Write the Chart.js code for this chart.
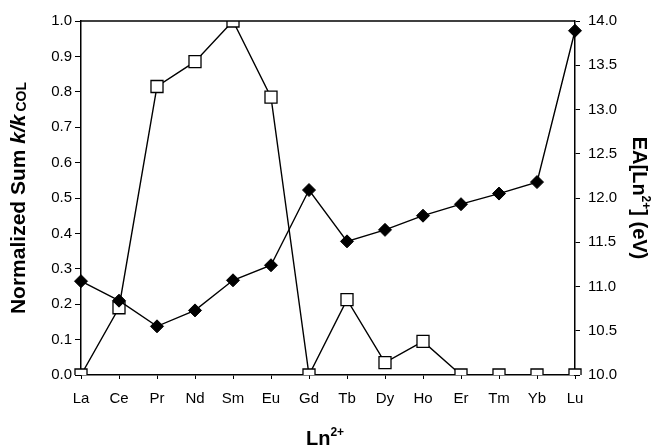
<!DOCTYPE html>
<html><head><meta charset="utf-8">
<script src="https://cdn.jsdelivr.net/npm/chart.js@4/dist/chart.umd.min.js"></script>
<style>html,body{margin:0;padding:0;background:#fff;overflow:hidden}#wrap{width:651px;height:447px;position:relative}</style>
</head><body><div id="wrap"><canvas id="c"></canvas></div>
<script>
const categories = ['La','Ce','Pr','Nd','Sm','Eu','Gd','Tb','Dy','Ho','Er','Tm','Yb','Lu'];
const normalizedSum = [0, 0.19, 0.815, 0.885, 1.0, 0.785, 0, 0.213, 0.035, 0.095, 0, 0, 0, 0];
const eaValues = [11.06, 10.84, 10.55, 10.73, 11.07, 11.24, 12.09, 11.51, 11.64, 11.80, 11.93, 12.05, 12.18, 13.89];
const leftTicks = [0, 0.1, 0.2, 0.3, 0.4, 0.5, 0.6, 0.7, 0.8, 0.9, 1.0];
const rightTicks = [10.0, 10.5, 11.0, 11.5, 12.0, 12.5, 13.0, 13.5, 14.0];

const FONT = '"Liberation Sans", Arial, sans-serif';

function drawRuns(ctx, runs, cx, baseline) {
  let total = 0;
  runs.forEach(r => { ctx.font = r.f; r.w = ctx.measureText(r.t).width; total += r.w + (r.gap || 0); });
  let x = cx - total / 2;
  ctx.textAlign = 'left';
  ctx.textBaseline = 'alphabetic';
  runs.forEach(r => { x += (r.gap || 0); ctx.font = r.f; ctx.fillText(r.t, x, baseline + (r.dy || 0)); x += r.w; });
}

const titlesPlugin = {
  id: 'titlesPlugin',
  afterDraw(chart) {
    const ctx = chart.ctx, a = chart.chartArea;
    ctx.save();
    ctx.strokeStyle = '#000'; ctx.lineWidth = 1.5;
    ctx.beginPath(); ctx.moveTo(a.left, a.top); ctx.lineTo(a.right, a.top); ctx.stroke();
    ctx.fillStyle = '#000';
    const B21 = 'bold 21px ' + FONT;
    const BI21 = 'italic bold 21px ' + FONT;
    const B20 = 'bold 20px ' + FONT;
    const SUB = 'bold 14px ' + FONT;
    const SUP = 'bold 12px ' + FONT;
    const cy = (a.top + a.bottom) / 2;
    // left title
    ctx.save();
    ctx.translate(25, cy);
    ctx.rotate(-Math.PI / 2);
    drawRuns(ctx, [
      {t: 'Normalized Sum ', f: B21},
      {t: 'k/k', f: BI21},
      {t: 'COL', f: SUB, dy: 1, gap: 3}
    ], 0, 0);
    ctx.restore();
    // right title
    ctx.save();
    ctx.translate(633, cy);
    ctx.rotate(Math.PI / 2);
    drawRuns(ctx, [
      {t: 'EA[Ln', f: B20},
      {t: '2+', f: SUP, dy: -9},
      {t: '] (eV)', f: B20}
    ], 0, 0);
    ctx.restore();
    // bottom title
    drawRuns(ctx, [
      {t: 'Ln', f: B20},
      {t: '2+', f: SUP, dy: -9}
    ], (a.left + a.right) / 2 - 3, 445);
    ctx.restore();
  }
};

const tickFont = {family: FONT, size: 15};

new Chart(document.getElementById('c'), {
  type: 'line',
  data: {
    labels: categories,
    datasets: [
      {
        label: 'EA',
        data: eaValues,
        yAxisID: 'y2',
        borderColor: '#000', borderWidth: 1.4,
        pointStyle: 'rectRot', pointRadius: 6.5, pointBackgroundColor: '#000', pointBorderColor: '#000', pointBorderWidth: 1,
        tension: 0, fill: false, order: 0
      },
      {
        label: 'Normalized Sum',
        data: normalizedSum,
        yAxisID: 'y',
        borderColor: '#000', borderWidth: 1.4,
        pointStyle: 'rect', pointRadius: 8.5, pointBackgroundColor: '#fff', pointBorderColor: '#000', pointBorderWidth: 1.3,
        tension: 0, fill: false, order: 1
      }
    ]
  },
  options: {
    responsive: true, maintainAspectRatio: false, animation: false,
    layout: {padding: {top: 21, left: 0, right: 0, bottom: 0}},
    plugins: {legend: {display: false}, tooltip: {enabled: false}},
    scales: {
      x: {
        type: 'category', offset: false,
        grid: {display: true, drawOnChartArea: false, tickLength: 4, color: '#000', lineWidth: 1},
        border: {display: true, color: '#000', width: 1.5},
        ticks: {color: '#000', font: tickFont, padding: 11, maxRotation: 0, autoSkip: false},
        afterFit: s => { s.height = 72; }
      },
      y: {
        position: 'left', min: 0, max: 1,
        afterBuildTicks: s => { s.ticks = leftTicks.map(v => ({value: v})); },
        grid: {display: true, drawOnChartArea: false, tickLength: 6, color: '#000', lineWidth: 1},
        border: {display: true, color: '#000', width: 1.5},
        ticks: {color: '#000', font: tickFont, padding: 3, callback: v => Number(v).toFixed(1)},
        afterFit: s => { s.width = 81; }
      },
      y2: {
        position: 'right', min: 10, max: 14,
        afterBuildTicks: s => { s.ticks = rightTicks.map(v => ({value: v})); },
        grid: {display: true, drawOnChartArea: false, tickLength: 5, color: '#000', lineWidth: 1},
        border: {display: true, color: '#000', width: 1.5},
        ticks: {color: '#000', font: tickFont, padding: 8, callback: v => Number(v).toFixed(1)},
        afterFit: s => { s.width = 76; }
      }
    }
  },
  plugins: [titlesPlugin]
});
</script>
</body></html>
